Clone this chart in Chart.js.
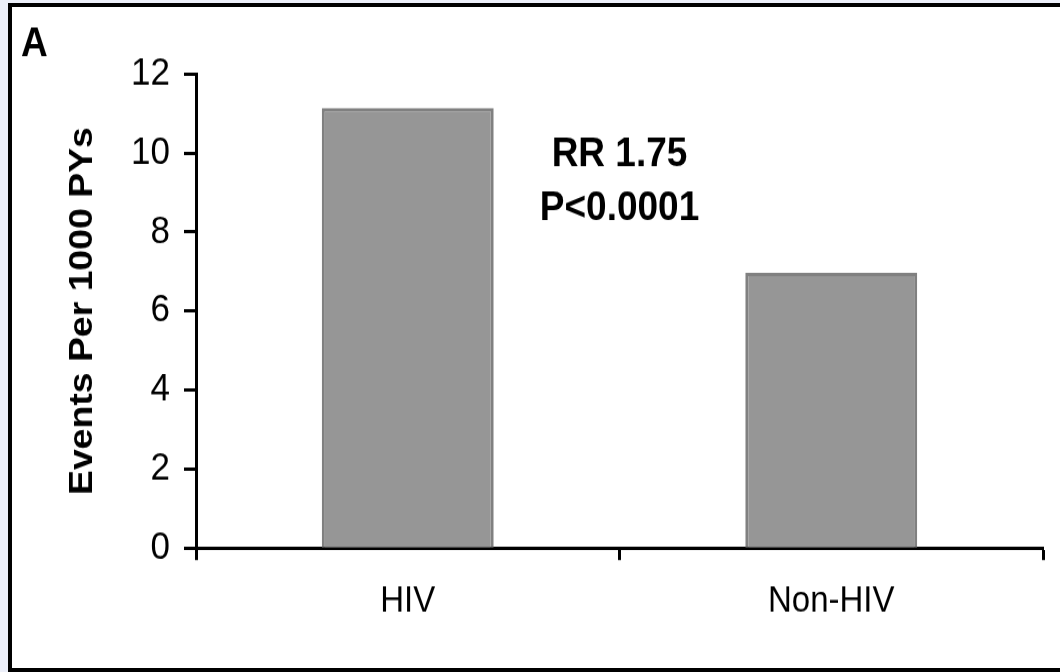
<!DOCTYPE html>
<html>
<head>
<meta charset="utf-8">
<script src="https://cdn.jsdelivr.net/npm/chart.js@4/dist/chart.umd.min.js"></script>
<style>
  html { overflow: hidden; }
  body { margin: 0; padding: 0; background: #eceff9; }
  #frame { position: absolute; left: 8px; top: 3px; width: 1100px; height: 661px; border-top: 4px solid #000; border-left: 4px solid #000; border-bottom: 4px solid #000; background: #fff; }
  /* the original picture is a little stretched vertically, so the chart is drawn at 611px and scaled */
  #chart { position: absolute; left: 0; top: 0; transform: scaleY(1.1); transform-origin: 0 0; }
</style>
</head>
<body>
<div id="frame"></div>
<canvas id="chart" width="1060" height="611"></canvas>
<script>
const categories = ["HIV", "Non-HIV"];
const eventRates = [11.14, 6.97];
const yTicks = [0, 2, 4, 6, 8, 10, 12];
const annotationLines = ["RR 1.75", "P<0.0001"];
const annotationYs = [9.95, 8.6];
const panelLabel = "A";

const FONT = "Arial, 'Liberation Sans', sans-serif";

const textPlugin = {
  id: "texts",
  afterDraw(chart) {
    const ctx = chart.ctx;
    const x = chart.scales.x;
    const y = chart.scales.y;
    ctx.save();
    ctx.fillStyle = "#000";
    ctx.textBaseline = "middle";
    ctx.font = "bold 37px " + FONT;
    ctx.textAlign = "center";
    const cx = x.getPixelForValue(0.5);
    annotationLines.forEach((t, i) => {
      ctx.fillText(t, cx, y.getPixelForValue(annotationYs[i]));
    });
    ctx.textAlign = "left";
    ctx.font = "bold 37px " + FONT;
    ctx.fillText(panelLabel, 21, 41);
    ctx.restore();
  }
};

new Chart(document.getElementById("chart"), {
  type: "bar",
  data: {
    labels: categories,
    datasets: [{
      data: eventRates,
      backgroundColor: "#969696",
      borderColor: "#808080",
      borderWidth: 3,
      categoryPercentage: 1,
      barPercentage: 0.406
    }]
  },
  options: {
    responsive: false,
    animation: false,
    devicePixelRatio: 1,
    layout: { padding: { left: 0, right: 17, top: 67.3, bottom: 0 } },
    plugins: { legend: { display: false }, tooltip: { enabled: false } },
    scales: {
      x: {
        grid: { drawOnChartArea: false, drawTicks: true, tickLength: 11, tickWidth: 3, tickColor: "#000", offset: true },
        border: { display: true, color: "#000", width: 3 },
        ticks: { color: "#000", font: { family: FONT, size: 33 }, padding: 18 },
        afterFit(scale) { scale.height = 112.8; }
      },
      y: {
        min: 0,
        max: 12,
        afterBuildTicks(scale) { scale.ticks = yTicks.map(v => ({ value: v })); },
        grid: { drawOnChartArea: false, drawTicks: true, tickLength: 12, tickWidth: 3, tickColor: "#000" },
        border: { display: true, color: "#000", width: 3 },
        ticks: { color: "#000", font: { family: FONT, size: 35 }, padding: 14 },
        title: {
          display: true,
          text: "Events Per 1000 PYs",
          color: "#000",
          font: { family: FONT, size: 34, weight: "bold" },
          padding: { top: 62, bottom: 0 }
        },
        afterFit(scale) { scale.width = 196; }
      }
    }
  },
  plugins: [textPlugin]
});
</script>
</body>
</html>
